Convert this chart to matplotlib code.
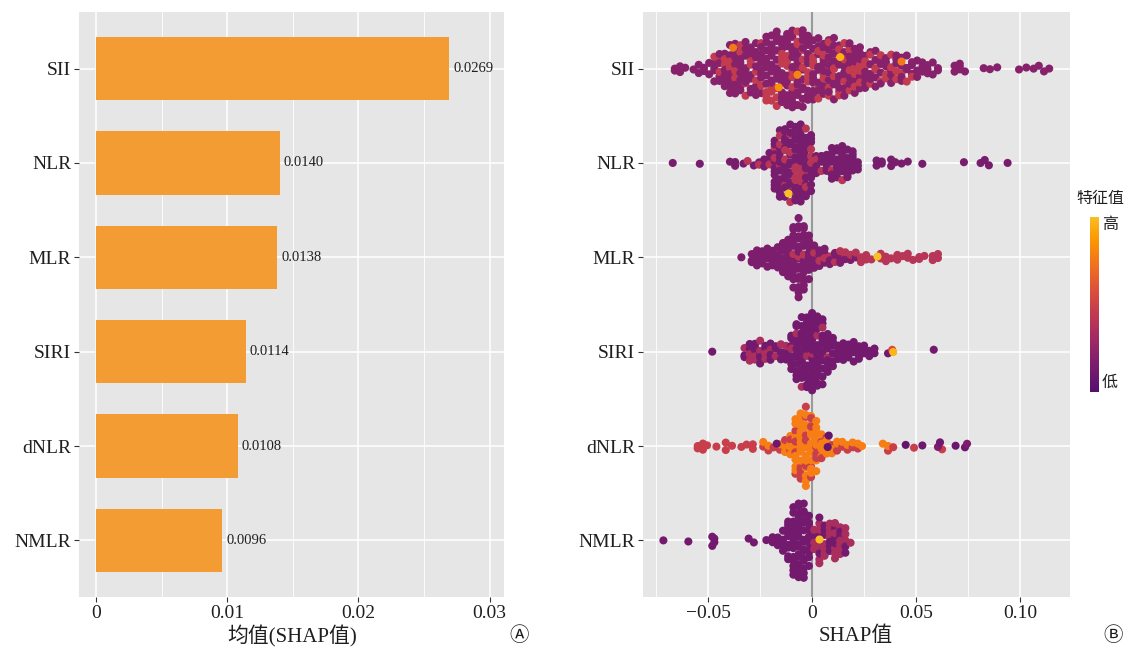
import numpy as np
import matplotlib
matplotlib.use("Agg")
import matplotlib.pyplot as plt

plt.rcParams['font.family'] = ['Liberation Serif', 'Noto Sans CJK SC', 'DejaVu Sans']

# features from bottom to top
features = ["NMLR", "dNLR", "SIRI", "MLR", "NLR", "SII"]
mean_abs_shap = [0.0096, 0.0108, 0.0114, 0.0138, 0.0140, 0.0269]

# beeswarm: (shap value, number of points, how many of them have a higher feature value)
sii_pts = [(-0.066, 2, 0), (-0.0635, 2, 0), (-0.061, 1, 0), (-0.057, 1, 0), (-0.0545, 2, 0),
           (-0.052, 2, 0), (-0.0495, 2, 0), (-0.047, 5, 1), (-0.0445, 6, 2), (-0.042, 7, 2),
           (-0.0395, 8, 2), (-0.037, 9, 2), (-0.0345, 9, 2), (-0.032, 9, 2), (-0.0295, 9, 2),
           (-0.027, 9, 2), (-0.0245, 10, 2), (-0.022, 11, 3), (-0.0195, 12, 3), (-0.017, 12, 3),
           (-0.0145, 12, 3), (-0.012, 13, 3), (-0.0095, 13, 3), (-0.007, 13, 3), (-0.0045, 13, 3),
           (-0.002, 12, 3), (0.0005, 11, 3), (0.003, 10, 3), (0.0055, 10, 3), (0.008, 10, 3),
           (0.0105, 10, 3), (0.013, 10, 3), (0.0155, 9, 3), (0.018, 9, 3), (0.0205, 8, 3),
           (0.023, 8, 3), (0.0255, 7, 2), (0.028, 6, 2), (0.0305, 6, 2), (0.033, 6, 2),
           (0.0355, 5, 2), (0.038, 5, 2), (0.0405, 5, 2), (0.043, 5, 1), (0.0455, 4, 1),
           (0.048, 4, 1), (0.0505, 3, 0), (0.053, 3, 0), (0.0555, 3, 0), (0.058, 2, 0),
           (0.0605, 2, 0), (0.0685, 2, 0), (0.071, 3, 0), (0.0735, 1, 0), (0.0825, 1, 0),
           (0.0855, 1, 0), (0.089, 1, 0), (0.0995, 1, 0), (0.103, 1, 0), (0.1065, 1, 0),
           (0.109, 1, 0), (0.1115, 1, 0), (0.114, 1, 0)]
nlr_pts = [(-0.067, 1, 0), (-0.054, 1, 0), (-0.0395, 1, 0), (-0.037, 2, 0), (-0.033, 1, 0),
           (-0.031, 1, 1), (-0.028, 1, 0), (-0.0255, 2, 1), (-0.023, 2, 0), (-0.0205, 3, 1),
           (-0.018, 12, 2), (-0.0155, 14, 3), (-0.013, 14, 3), (-0.0105, 15, 3), (-0.008, 16, 4),
           (-0.0055, 16, 4), (-0.003, 15, 3), (-0.0005, 12, 3), (0.002, 4, 1), (0.0045, 3, 1),
           (0.007, 5, 0), (0.0095, 7, 1), (0.012, 7, 0), (0.0145, 7, 1), (0.017, 7, 0),
           (0.0195, 5, 0), (0.022, 3, 0), (0.031, 2, 0), (0.0335, 2, 0), (0.038, 2, 0),
           (0.040, 1, 0), (0.043, 1, 0), (0.046, 1, 0), (0.053, 1, 0), (0.073, 1, 0),
           (0.081, 1, 0), (0.083, 1, 0), (0.085, 1, 0), (0.094, 1, 0)]
mlr_pts = [(-0.034, 1, 0), (-0.029, 3, 0), (-0.0265, 4, 0), (-0.024, 4, 0), (-0.0215, 4, 0),
           (-0.019, 5, 0), (-0.0165, 5, 0), (-0.014, 6, 0), (-0.0115, 9, 0), (-0.009, 14, 1),
           (-0.0065, 18, 1), (-0.004, 15, 1), (-0.0015, 9, 0), (0.001, 6, 1), (0.0035, 4, 1),
           (0.006, 4, 1), (0.0085, 3, 1), (0.011, 3, 1), (0.0135, 3, 1), (0.016, 3, 2),
           (0.0185, 2, 1), (0.021, 2, 1), (0.0235, 2, 2), (0.026, 2, 2), (0.0285, 1, 1),
           (0.033, 2, 2), (0.0355, 2, 2), (0.038, 1, 1), (0.041, 2, 2), (0.0435, 1, 1),
           (0.046, 2, 2), (0.0485, 1, 1), (0.0515, 2, 2), (0.054, 1, 1), (0.058, 2, 2),
           (0.0605, 2, 2)]
siri_pts = [(-0.048, 1, 0), (-0.0325, 3, 1), (-0.030, 4, 2), (-0.0275, 5, 2), (-0.025, 5, 2),
            (-0.0225, 4, 2), (-0.020, 4, 1), (-0.0175, 3, 1), (-0.015, 3, 1), (-0.0125, 4, 1),
            (-0.010, 8, 1), (-0.0075, 12, 1), (-0.005, 14, 1), (-0.0025, 15, 1), (0.0, 16, 1),
            (0.0025, 15, 1), (0.005, 13, 1), (0.0075, 9, 1), (0.010, 6, 0), (0.0125, 4, 0),
            (0.015, 4, 0), (0.0175, 4, 0), (0.020, 4, 0), (0.0225, 4, 0), (0.025, 3, 0),
            (0.0275, 2, 0), (0.030, 2, 0), (0.0365, 1, 0), (0.0585, 1, 0)]
dnlr_pts = [(-0.055, 2, 0), (-0.0525, 2, 0), (-0.0505, 1, 0), (-0.046, 1, 0), (-0.0415, 2, 0),
            (-0.0385, 1, 0), (-0.034, 1, 0), (-0.0315, 1, 0), (-0.0285, 2, 0), (-0.0235, 2, 1),
            (-0.021, 2, 1), (-0.0185, 1, 0), (-0.0155, 2, 1), (-0.013, 3, 2), (-0.0105, 6, 4),
            (-0.008, 12, 8), (-0.0055, 15, 11), (-0.003, 17, 12), (-0.0005, 14, 10), (0.002, 11, 8),
            (0.0045, 6, 4), (0.007, 4, 3), (0.0095, 3, 2), (0.012, 3, 2), (0.0145, 2, 1),
            (0.017, 2, 1), (0.0195, 2, 1), (0.022, 2, 1), (0.024, 1, 1), (0.034, 1, 1),
            (0.0365, 2, 1), (0.039, 1, 0), (0.049, 1, 0), (0.0625, 1, 0)]
nmlr_pts = [(-0.0715, 1, 0), (-0.0595, 1, 0), (-0.048, 2, 0), (-0.047, 2, 0), (-0.0305, 1, 0),
            (-0.028, 1, 0), (-0.022, 1, 0), (-0.019, 2, 0), (-0.0165, 3, 0), (-0.014, 4, 0),
            (-0.0115, 9, 0), (-0.009, 14, 0), (-0.0065, 16, 0), (-0.004, 15, 0), (-0.0015, 11, 0),
            (0.001, 4, 3), (0.0035, 9, 6), (0.006, 7, 4), (0.0085, 7, 4), (0.011, 8, 5),
            (0.0135, 7, 5), (0.016, 5, 3), (0.0185, 1, 1)]
swarm_pts = [nmlr_pts, dnlr_pts, siri_pts, mlr_pts, nlr_pts, sii_pts]

# scaled feature value (0 = low, 1 = high) of the two groups in each row
level_low = [0.12, 0.48, 0.12, 0.15, 0.14, 0.2]
level_high = [0.34, 0.78, 0.35, 0.4, 0.4, 0.45]

# single points with a distinct colour: (feature, shap value, scaled feature value)
extra_pts = [("SII", -0.038, 0.75), ("SII", -0.007, 0.8), ("SII", 0.043, 0.75),
             ("SII", 0.0135, 0.95), ("SII", -0.016, 0.85),
             ("NLR", -0.0115, 1.0), ("MLR", 0.031, 1.0),
             ("SIRI", 0.0385, 0.55), ("SIRI", 0.039, 0.97),
             ("dNLR", 0.0075, 0.05), ("dNLR", 0.008, 0.05), ("dNLR", -0.017, 0.1),
             ("dNLR", 0.045, 0.05), ("dNLR", 0.053, 0.1), ("dNLR", 0.0605, 0.15),
             ("dNLR", 0.0615, 0.1), ("dNLR", 0.069, 0.08), ("dNLR", 0.0735, 0.1),
             ("dNLR", 0.0745, 0.15),
             ("NMLR", 0.0035, 1.0)]

W, H = 1125, 652
fig = plt.figure(figsize=(W / 100, H / 100), dpi=100)

TXT = '#1f1f1f'
BG = '#E6E6E6'


def style_axes(ax):
    ax.set_facecolor(BG)
    for s in ax.spines.values():
        s.set_visible(False)
    ax.set_axisbelow(True)
    ax.grid(which='major', color='white', lw=1.1)
    ax.grid(which='minor', axis='x', color='white', lw=0.6)
    ax.tick_params(which='major', length=3.5, width=0.8, color='#333333',
                   labelsize=14, labelcolor=TXT, pad=2)
    ax.tick_params(which='minor', length=0)
    ax.set_yticks(range(1, len(features) + 1))
    ax.set_yticklabels(features)
    ax.set_ylim(0.4, 6.6)


def px_axes(l, t, r, b):
    return fig.add_axes([l / W, 1 - b / H, (r - l) / W, (b - t) / H])


# ---- A: mean |SHAP| bars
ax1 = px_axes(79, 12, 504, 597)
style_axes(ax1)
ypos = np.arange(1, len(features) + 1)
ax1.barh(ypos, mean_abs_shap, height=0.67, color='#F39C34', zorder=2)
for y, v in zip(ypos, mean_abs_shap):
    ax1.annotate(f"{v:.4f}", (v, y), xytext=(3, 0), textcoords='offset points',
                 va='center', ha='left', fontsize=10.5, color=TXT)
ax1.set_xlim(-0.0013, 0.0311)
ax1.set_xticks([0, 0.01, 0.02, 0.03])
ax1.set_xticklabels(['0', '0.01', '0.02', '0.03'])
ax1.set_xticks([0.005, 0.015, 0.025], minor=True)

# ---- B: beeswarm (quasirandom offsets scaled by local density)
ax2 = px_axes(643, 12, 1070, 597)
style_axes(ax2)
ax2.set_xlim(-0.0813, 0.1240)
ax2.set_xticks([-0.05, 0, 0.05, 0.10])
ax2.set_xticklabels(['\u22120.05', '0', '0.05', '0.10'])
ax2.set_xticks([-0.075, -0.025, 0.025, 0.075], minor=True)
ax2.axvline(0, color='#9a9a9a', lw=1.5, zorder=1.5)


def vdc(n):
    out = np.zeros(n)
    for i in range(n):
        k, f, r = i + 1, 0.5, 0.0
        while k:
            r += f * (k & 1)
            k >>= 1
            f /= 2
        out[i] = r
    return out


def bee_offsets(x, half_width=0.43, adjust=0.3):
    n = len(x)
    q75, q25 = np.percentile(x, [75, 25])
    bw = adjust * 0.9 * min(x.std(ddof=1), (q75 - q25) / 1.34) * n ** -0.2
    dens = np.exp(-0.5 * ((x[:, None] - x[None, :]) / bw) ** 2).sum(axis=1)
    return (vdc(n) - 0.5) * 2 * half_width * dens / dens.max()


cmap = plt.get_cmap('inferno')


def col(level):
    return cmap(0.25 + 0.6 * np.asarray(level))


for k, (name, pts) in enumerate(zip(features, swarm_pts)):
    xs, cs, ex = [], [], []
    for v, n, nh in pts:
        slots = {int(j * n / nh + n / (2 * nh)) for j in range(nh)} if nh else set()
        for j in range(n):
            xs.append(v)
            cs.append(level_high[k] if j in slots else level_low[k])
            ex.append(False)
    for f, v, c in extra_pts:
        if f == name:
            xs.append(v)
            cs.append(c)
            ex.append(True)
    xs, cs, ex = np.array(xs), np.array(cs), np.array(ex)
    order = np.argsort(xs, kind='stable')
    xs, cs, ex = xs[order], cs[order], ex[order]
    ys = bee_offsets(xs) + k + 1
    ax2.scatter(xs[~ex], ys[~ex], s=34, c=col(cs[~ex]), lw=0, zorder=3)
    ax2.scatter(xs[ex], ys[ex], s=34, c=col(cs[ex]), lw=0, zorder=4)

# axis titles and panel marks
fig.text(292 / W, 1 - 636 / H, '均值(SHAP值)', ha='center', va='center', fontsize=15, color=TXT)
fig.text(856 / W, 1 - 636 / H, 'SHAP值', ha='center', va='center', fontsize=15, color=TXT)
fig.text(519 / W, 1 - 636 / H, '\u24b6', ha='center', va='center', fontsize=14, color=TXT)
fig.text(1113 / W, 1 - 636 / H, '\u24b7', ha='center', va='center', fontsize=14, color=TXT)

# colour legend
cax = px_axes(1090, 217, 1099, 392)
grad = np.linspace(1, 0, 256)[:, None]
cax.imshow(grad, aspect='auto', cmap=cmap, vmin=-0.25 / 0.6, vmax=1 + 0.15 / 0.6)
cax.set_axis_off()
fig.text(1100 / W, 1 - 199 / H, '特征值', ha='center', va='center', fontsize=11.5, color=TXT)
fig.text(1110 / W, 1 - 225 / H, '高', ha='center', va='center', fontsize=11.5, color=TXT)
fig.text(1110 / W, 1 - 383 / H, '低', ha='center', va='center', fontsize=11.5, color=TXT)

fig.savefig('out.png', dpi=100)
